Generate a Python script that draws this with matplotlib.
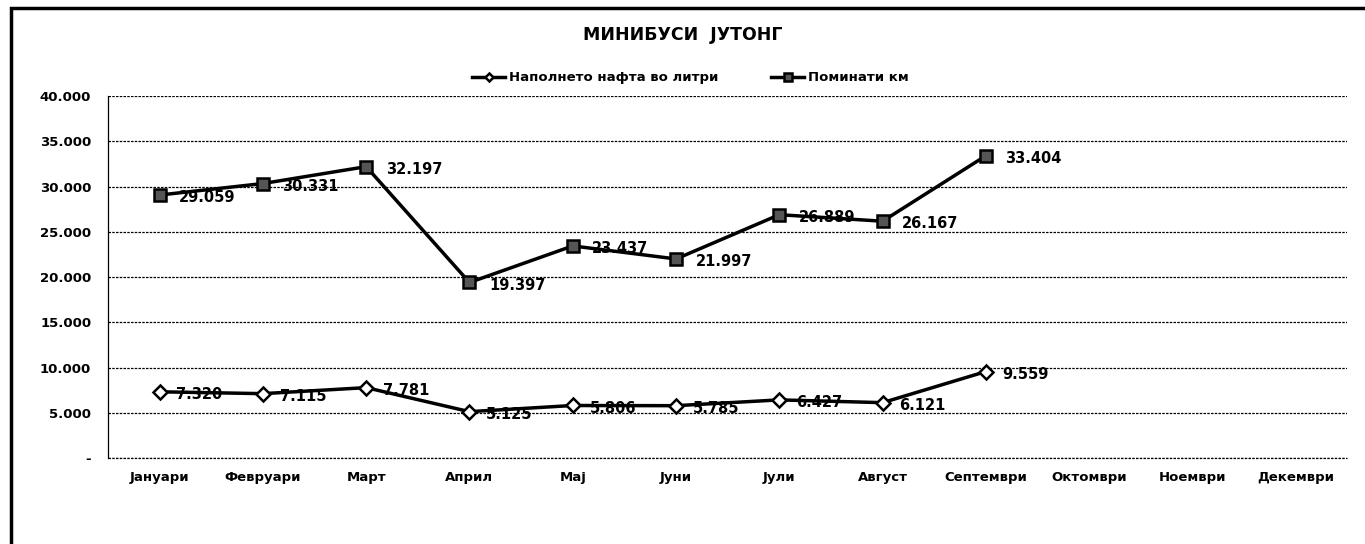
import matplotlib.pyplot as plt
from matplotlib.patches import Rectangle
from matplotlib.ticker import FuncFormatter

# Monthly data (Sep is the last filled month)
months = ['Јануари', 'Февруари', 'Март', 'Април', 'Мај', 'Јуни', 'Јули',
          'Август', 'Септември', 'Октомври', 'Ноември', 'Декември']
fuel = [7320, 7115, 7781, 5125, 5806, 5785, 6427, 6121, 9559]
km = [29059, 30331, 32197, 19397, 23437, 21997, 26889, 26167, 33404]

fig = plt.figure(figsize=(13.65, 5.44), dpi=100)
ax = fig.add_axes([0.0791, 0.158, 0.908, 0.6655])

# outer frame of the chart
fig.patches.append(Rectangle((0.008, -0.01), 1.0, 0.995, transform=fig.transFigure,
                             fill=False, edgecolor='black', linewidth=2.5))

x = list(range(len(months)))
ax.plot(x[:len(fuel)], fuel, color='black', linewidth=2.5, marker='D', markersize=7,
        markerfacecolor='white', markeredgecolor='black', markeredgewidth=1.8,
        label='Наполнето нафта во литри')
ax.plot(x[:len(km)], km, color='black', linewidth=2.5, marker='s', markersize=9,
        markerfacecolor='#555555', markeredgecolor='black', markeredgewidth=1.8,
        label='Поминати км')

def fmt(v):
    return f'{v:,.0f}'.replace(',', '.')

for xi, v in zip(x, fuel):
    ax.annotate(fmt(v), (xi, v), xytext=(12, -2), textcoords='offset points',
                va='center', ha='left', fontsize=10.5, fontweight='bold')
for xi, v in zip(x, km):
    ax.annotate(fmt(v), (xi, v), xytext=(14, -2), textcoords='offset points',
                va='center', ha='left', fontsize=10.5, fontweight='bold')

ax.set_xlim(-0.5, len(months) - 0.5)
ax.set_ylim(0, 40000)
ax.set_yticks(range(0, 40001, 5000))
ax.yaxis.set_major_formatter(FuncFormatter(lambda v, p: '-' if v == 0 else fmt(v)))
ax.set_xticks(x)
ax.set_xticklabels(months)
for lbl in ax.get_xticklabels() + ax.get_yticklabels():
    lbl.set_fontweight('bold')
    lbl.set_fontsize(9.5)
ax.tick_params(axis='both', length=0, pad=12)
ax.tick_params(axis='x', pad=9)

ax.grid(axis='y', color='black', linestyle=(0, (2, 1)), linewidth=0.9)
ax.axhline(0, color='black', linestyle=(0, (2, 1)), linewidth=0.9, clip_on=False)
for s in ['top', 'right', 'bottom']:
    ax.spines[s].set_visible(False)
ax.spines['left'].set_linestyle((0, (2, 1)))
ax.spines['left'].set_linewidth(0.9)

fig.text(0.5, 0.935, 'МИНИБУСИ  ЈУТОНГ', ha='center', va='center',
         fontsize=12.5, fontweight='bold')
leg = ax.legend(loc='lower center', bbox_to_anchor=(0.47, 1.0), ncol=2, frameon=False,
                markerscale=0.6, handlelength=2.5, columnspacing=4,
                handletextpad=0.3, prop={'weight': 'bold', 'size': 9.5})

fig.savefig('out.png', dpi=100)
